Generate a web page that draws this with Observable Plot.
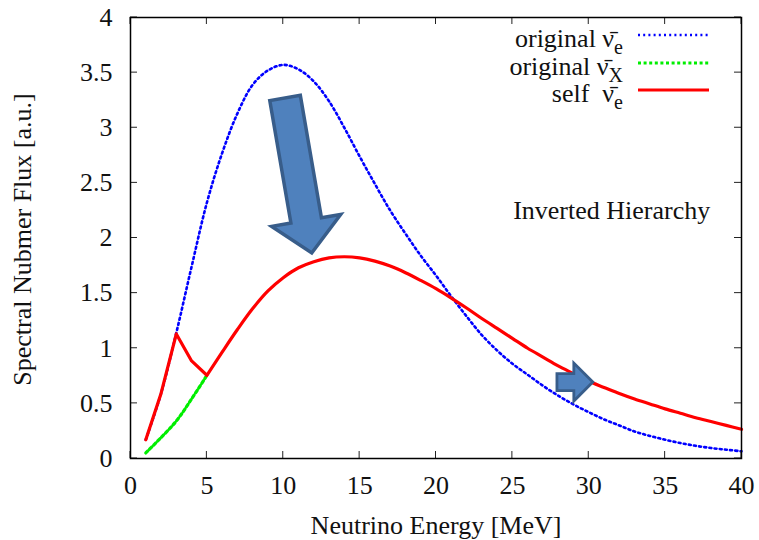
<!DOCTYPE html>
<html>
<head>
<meta charset="utf-8">
<script src="https://cdn.jsdelivr.net/npm/d3@7"></script>
<script src="https://cdn.jsdelivr.net/npm/@observablehq/plot@0.6"></script>
<style>
  html, body { margin: 0; padding: 0; background: #fff; }
  #chart svg { display: block; }
</style>
</head>
<body>
<div id="chart"></div>
<script>
// ---- data ----
const energy = [1,2,3,4,5,6,7,8,9,10,11,12,13,14,15,16,17,18,19,20,21,22,23,24,25,26,27,28,29,30,31,32,33,34,35,36,37,38,39,40];
const originalNueBar = [0.17,0.59,1.14,1.74,2.32,2.77,3.13,3.39,3.52,3.57,3.53,3.42,3.24,3.00,2.74,2.49,2.25,2.04,1.84,1.66,1.47,1.29,1.12,0.98,0.86,0.76,0.66,0.57,0.49,0.42,0.355,0.30,0.245,0.205,0.17,0.14,0.115,0.095,0.08,0.065];
const energyX = [1,2,3,4,5];
const originalNuxBar = [0.05,0.19,0.34,0.54,0.755];
const selfNueBar = [0.17,0.59,1.13,0.885,0.755,0.965,1.17,1.36,1.52,1.64,1.73,1.785,1.82,1.83,1.82,1.79,1.745,1.685,1.615,1.54,1.455,1.365,1.27,1.18,1.09,1.00,0.92,0.84,0.77,0.70,0.645,0.59,0.54,0.495,0.45,0.41,0.37,0.335,0.30,0.265];
const xTicks = [0,5,10,15,20,25,30,35,40];
const yTicks = [0,0.5,1,1.5,2,2.5,3,3.5,4];
const xLabel = "Neutrino Energy [MeV]";
const yLabel = "Spectral Nubmer Flux [a.u.]";
const noteText = ["Inverted Hierarchy"];
const noteE = [31.5];
const noteFlux = [2.17];
// annotation arrows: tail and tip in data units
const arrowTailE = [10.15, 27.95];
const arrowTailFlux = [3.266, 0.689];
const arrowTipE = [11.9, 30.3];
const arrowTipFlux = [1.86, 0.689];
const legendLabels = ["original ", "original ", "self  "];
const legendSubs = ["e", "X", "e"];

const FONT = "'Liberation Serif', 'Times New Roman', Times, serif";
const blueData = energy.map((e, i) => ({e, v: originalNueBar[i]}));
const greenData = energyX.map((e, i) => ({e, v: originalNuxBar[i]}));
const redData = energy.map((e, i) => ({e, v: selfNueBar[i]}));

const lineStyles = [
  {color: "#0000ff", width: 2.6, dash: "2,3.2"},
  {color: "#00ee00", width: 3.2, dash: "3,2.6"},
  {color: "#ff0000", width: 3.2, dash: null}
];

// inward ticks on all four sides (gnuplot style)
function ticksMark(index, scales, values, dims) {
  const {width, height, marginLeft, marginRight, marginTop, marginBottom} = dims;
  const L = 7;
  const x0 = marginLeft, x1 = width - marginRight, y0 = marginTop, y1 = height - marginBottom;
  const g = d3.create("svg:g").attr("stroke", "#222").attr("stroke-width", 1);
  for (const t of xTicks) {
    const px = scales.x(t);
    g.append("line").attr("x1", px).attr("x2", px).attr("y1", y1).attr("y2", y1 - L);
    g.append("line").attr("x1", px).attr("x2", px).attr("y1", y0).attr("y2", y0 + L);
  }
  for (const t of yTicks) {
    const py = scales.y(t);
    g.append("line").attr("x1", x0).attr("x2", x0 + L).attr("y1", py).attr("y2", py);
    g.append("line").attr("x1", x1).attr("x2", x1 - L).attr("y1", py).attr("y2", py);
  }
  return g.node();
}

function blockArrow(p0, p1, s, h, L) {
  const dx = p1[0] - p0[0], dy = p1[1] - p0[1], len = Math.hypot(dx, dy);
  const ux = dx / len, uy = dy / len, nx = -uy, ny = ux;
  const bx = p1[0] - ux * L, by = p1[1] - uy * L;
  return [
    [p0[0] + nx * s, p0[1] + ny * s], [bx + nx * s, by + ny * s], [bx + nx * h, by + ny * h],
    p1, [bx - nx * h, by - ny * h], [bx - nx * s, by - ny * s], [p0[0] - nx * s, p0[1] - ny * s]
  ];
}

function arrowsMark(index, scales) {
  const g = d3.create("svg:g").attr("fill", "#4f81bd").attr("stroke", "#385d8a").attr("stroke-linejoin", "miter");
  const sizes = [{s: 15.5, h: 35, L: 33, w: 3.5}, {s: 8.5, h: 19, L: 19, w: 2.8}];
  arrowTailE.forEach((e, i) => {
    const p0 = [scales.x(e), scales.y(arrowTailFlux[i])];
    const p1 = [scales.x(arrowTipE[i]), scales.y(arrowTipFlux[i])];
    const {s, h, L, w} = sizes[i];
    const pts = blockArrow(p0, p1, s, h, L);
    g.append("polygon").attr("points", pts.map(p => p.join(",")).join(" ")).attr("stroke-width", w);
  });
  return g.node();
}

function legendMark(index, scales, values, dims) {
  const right = dims.width - dims.marginRight;
  const g = d3.create("svg:g").attr("font-family", FONT).attr("font-size", 26).attr("fill", "#111");
  const rowsY = [35, 63, 90];
  legendLabels.forEach((lab, i) => {
    const y = rowsY[i];
    const t = g.append("text").attr("x", right - 118).attr("y", y + 11.5)
      .attr("text-anchor", "end").style("white-space", "pre");
    t.append("tspan").text(lab + "\u03BD\u0304");
    t.append("tspan").attr("dy", 7).attr("font-size", 20).text(legendSubs[i]);
    const st = lineStyles[i];
    const ln = g.append("line").attr("x1", right - 103).attr("x2", right - 32)
      .attr("y1", y).attr("y2", y).attr("stroke", st.color).attr("stroke-width", st.width);
    if (st.dash) ln.attr("stroke-dasharray", st.dash);
  });
  return g.node();
}

const chart = Plot.plot({
  width: 759,
  height: 540,
  marginLeft: 130,
  marginRight: 18,
  marginTop: 17,
  marginBottom: 82,
  style: {fontFamily: FONT, fontSize: "26px", color: "#111", background: "#fff"},
  x: {domain: [0, 40], ticks: xTicks, tickSize: 0, tickPadding: 17.5, tickFormat: d => String(d), label: null},
  y: {domain: [0, 4], ticks: yTicks, tickSize: 0, tickPadding: 18, tickFormat: d => String(d), label: null},
  marks: [
    Plot.line(blueData, {x: "e", y: "v", stroke: lineStyles[0].color, strokeWidth: lineStyles[0].width, strokeDasharray: lineStyles[0].dash, curve: "catmull-rom"}),
    Plot.line(greenData, {x: "e", y: "v", stroke: lineStyles[1].color, strokeWidth: lineStyles[1].width, strokeDasharray: lineStyles[1].dash, curve: "catmull-rom"}),
    Plot.line(redData.filter(d => d.e <= 5), {x: "e", y: "v", stroke: lineStyles[2].color, strokeWidth: lineStyles[2].width, curve: "linear", strokeLinecap: "round"}),
    Plot.line(redData.filter(d => d.e >= 5), {x: "e", y: "v", stroke: lineStyles[2].color, strokeWidth: lineStyles[2].width, curve: "catmull-rom", strokeLinecap: "round"}),
    arrowsMark,
    Plot.text(noteText, {x: (d, i) => noteE[i], y: (d, i) => noteFlux[i], text: d => d, lineAnchor: "bottom", textAnchor: "middle", fontSize: 26, fill: "#111"}),
    Plot.text([xLabel], {frameAnchor: "bottom", text: d => d, dy: 75, lineAnchor: "bottom", textAnchor: "middle", fontSize: 26, fill: "#111"}),
    Plot.text([yLabel], {frameAnchor: "left", text: d => d, dx: -100, dy: 1.5, rotate: -90, lineAnchor: "bottom", textAnchor: "middle", fontSize: 26, fill: "#111"}),
    legendMark,
    ticksMark,
    Plot.frame({stroke: "#000", strokeWidth: 1.5})
  ]
});
document.getElementById("chart").appendChild(chart);
</script>
</body>
</html>
